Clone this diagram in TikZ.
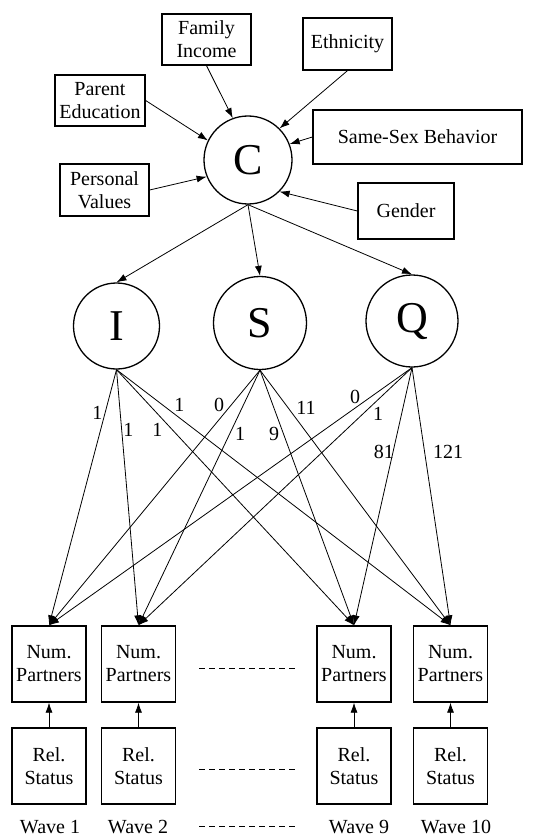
\documentclass[tikz,border=0pt]{standalone}
\usepackage{fontspec}
\setmainfont{Liberation Serif}
\usetikzlibrary{arrows.meta}

\begin{document}
\begin{tikzpicture}[x=1pt, y=-1pt,
  obsbox/.style={draw, line width=1.3pt, align=center, inner sep=1pt, font=\fontsize{20}{23}\selectfont},
  latent/.style={circle, draw, line width=1.3pt, inner sep=0pt, font=\fontsize{44}{44}\selectfont},
  wgt/.style={inner sep=0pt, font=\fontsize{20}{23}\selectfont},
  reg/.style={->, line width=0.8pt},
  ellip/.style={line width=0.9pt, dash pattern=on 6pt off 4pt},
  >={Latex[length=10pt, width=7pt]}]
\useasboundingbox (0,0) rectangle (541,837);

\node[obsbox, minimum width=89pt, minimum height=51pt] (fi) at (206.5,39.5){Family\\Income};
\node[obsbox, minimum width=89pt, minimum height=52pt] (eth) at (347.5,44){Ethnicity};
\node[obsbox, minimum width=90pt, minimum height=51pt] (pe) at (100,100.5){Parent\\Education};
\node[obsbox, minimum width=209pt, minimum height=54pt] (ssb) at (417.5,137){Same-Sex Behavior};
\node[obsbox, minimum width=89pt, minimum height=52pt] (pv) at (104.5,190){Personal\\Values};
\node[obsbox, minimum width=96pt, minimum height=56pt] (gen) at (406,211){Gender};
\node[latent, minimum size=88pt] (c) at (248,160){C};
\draw[reg](fi.south) -- (c.110);
\draw[reg](eth.south) -- (c.north east);
\draw[reg](pe.east) -- (c.154);
\draw[reg](ssb.west) -- (c.21);
\draw[reg](pv.east) -- (c.202);
\draw[reg](gen.west) -- (c.south east);

\node[latent, minimum size=86pt] (i) at (116.5,326){I};
\node[latent, minimum size=93pt] (s) at (260,323){S};
\node[latent, minimum size=92pt] (q) at (412,321){Q};
\draw[reg](c.south) -- (i.north);
\draw[reg](c.south) -- (s.north);
\draw[reg](c.south) -- (q.north);

\node[obsbox, minimum width=74pt, minimum height=76pt] (np1) at (49,664){Num.\\Partners};
\node[obsbox, minimum width=74pt, minimum height=76pt] (np2) at (138.5,664){Num.\\Partners};
\node[obsbox, minimum width=74pt, minimum height=76pt] (np9) at (354,664){Num.\\Partners};
\node[obsbox, minimum width=74pt, minimum height=76pt] (np10) at (450.5,664){Num.\\Partners};
\node[obsbox, minimum width=74pt, minimum height=76pt] (rs1) at (49,766){Rel.\\Status};
\node[obsbox, minimum width=74pt, minimum height=76pt] (rs2) at (138.5,766){Rel.\\Status};
\node[obsbox, minimum width=74pt, minimum height=76pt] (rs9) at (354,766){Rel.\\Status};
\node[obsbox, minimum width=74pt, minimum height=76pt] (rs10) at (450.5,766){Rel.\\Status};
\draw[reg](rs1) -- (np1);
\draw[reg](rs2) -- (np2);
\draw[reg](rs9) -- (np9);
\draw[reg](rs10) -- (np10);

\draw[reg](i.south) -- node[wgt, pos=.171, xshift=-7.5pt]{1} (np1.north);
\draw[reg](i.south) -- node[wgt, pos=.237, xshift=6.7pt]{1} (np2.north);
\draw[reg](i.south) -- node[wgt, pos=.237, xshift=-15.4pt]{1} (np9.north);
\draw[reg](i.south) -- node[wgt, pos=.136, xshift=17.5pt]{1} (np10.north);
\draw[reg](s.south) -- node[wgt, pos=.136, xshift=-12.3pt]{0} (np1.north);
\draw[reg](s.south) -- node[wgt, pos=.249, xshift=10.3pt]{1} (np2.north);
\draw[reg](s.south) -- node[wgt, pos=.249, xshift=-9.4pt]{9} (np9.north);
\draw[reg](s.south) -- node[wgt, pos=.148, xshift=17.8pt]{11} (np10.north);
\draw[reg](q.south) -- node[wgt, pos=.112, xshift=-16.3pt]{0} (np1.north);
\draw[reg](q.south) -- node[wgt, pos=.181, xshift=15.5pt]{1} (np2.north);
\draw[reg](q.south) -- node[wgt, pos=.328, xshift=-9pt]{81} (np9.north);
\draw[reg](q.south) -- node[wgt, pos=.328, xshift=23.4pt]{121} (np10.north);

\node[wgt, anchor=base] (w1) at (50,833){Wave 1};
\node[wgt, anchor=base] (w2) at (138,833){Wave 2};
\node[wgt, anchor=base] (w9) at (359,833){Wave 9};
\node[wgt, anchor=base] (w10) at (456,833){Wave 10};
\draw[ellip](199,668) -- (298,668);
\draw[ellip](199,769) -- (298,769);
\draw[ellip](199,826) -- (298,826);

\end{tikzpicture}
\end{document}
